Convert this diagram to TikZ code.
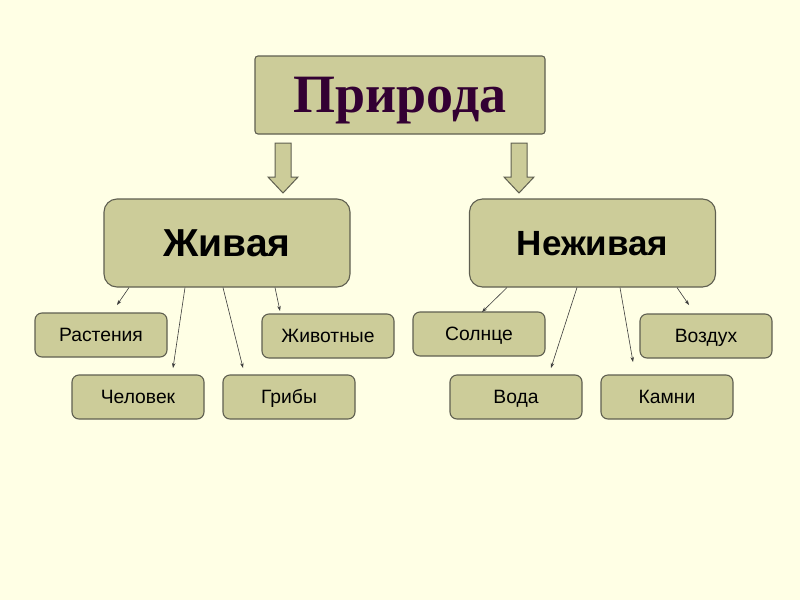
\documentclass[tikz,border=0pt]{standalone}
\usepackage{fontspec}
\setmainfont{Liberation Serif}
\setsansfont{Liberation Sans}
\usetikzlibrary{arrows.meta}
\begin{document}
\begin{tikzpicture}[x=1pt,y=-1pt,
  box/.style={draw=boxline,fill=boxfill,line width=1.1pt,rounded corners=6pt,inner sep=0pt,text depth=0pt},
  big/.style={box,rounded corners=13pt,minimum width=246pt,minimum height=88pt,text height=27pt},
  small/.style={box,rounded corners=7pt,minimum width=132pt,minimum height=44pt,text height=13.8pt,font=\sffamily\fontsize{19.3}{22}\selectfont},
  conn/.style={draw=linecol,line width=0.6pt,-{Stealth[length=5pt,width=3.5pt]}},
  blockarrow/.style={draw=boxline,fill=boxfill,line width=1pt,line join=miter}
]
\definecolor{bg}{RGB}{255,255,229}
\definecolor{boxfill}{RGB}{204,204,153}
\definecolor{boxline}{RGB}{95,95,80}
\definecolor{linecol}{RGB}{60,60,60}
\definecolor{titlecol}{RGB}{51,0,51}
\fill[bg] (0,0) rectangle (800,600);
\useasboundingbox (0,0) rectangle (800,600);

\node[box,rounded corners=3pt,minimum width=290pt,minimum height=78pt,text height=35.5pt,font=\rmfamily\bfseries\fontsize{54}{58}\selectfont,text=titlecol] (top) at (400,95) {Природа};

\draw[blockarrow] (275,143) -- (291,143) -- (291,177) -- (298,177) -- (283,193) -- (268,177) -- (275,177) -- cycle;
\draw[blockarrow] (511,143) -- (527,143) -- (527,177) -- (534,177) -- (519,193) -- (504,177) -- (511,177) -- cycle;

\node[big,font=\sffamily\bfseries\fontsize{39}{44}\selectfont] (live) at (227,243) {Живая};
\node[big,text height=25pt,font=\sffamily\bfseries\fontsize{35}{40}\selectfont] (nonlive) at (592.5,243) {Неживая};

\node[small] (rast) at (101,335) {Растения};
\node[small] (zhiv) at (328,336) {Животные};
\node[small] (chel) at (138,397) {Человек};
\node[small] (grib) at (289,397) {Грибы};
\node[small] (soln) at (479,334) {Солнце};
\node[small] (vozd) at (706,336) {Воздух};
\node[small] (voda) at (516,397) {Вода};
\node[small] (kamn) at (667,397) {Камни};

\coordinate (e1) at (117,305);
\coordinate (e2) at (173,368);
\coordinate (e3) at (243,368);
\coordinate (e4) at (280,311);
\coordinate (f1) at (482,312);
\coordinate (f2) at (551,368);
\coordinate (f3) at (633,362);
\coordinate (f4) at (689,305);

\draw[conn] (live.south -| 129,0) -- (e1);
\draw[conn] (live.south -| 185,0) -- (e2);
\draw[conn] (live.south -| 223,0) -- (e3);
\draw[conn] (live.south -| 275,0) -- (e4);
\draw[conn] (nonlive.south -| 507,0) -- (f1);
\draw[conn] (nonlive.south -| 577,0) -- (f2);
\draw[conn] (nonlive.south -| 620,0) -- (f3);
\draw[conn] (nonlive.south -| 677,0) -- (f4);
\end{tikzpicture}
\end{document}
